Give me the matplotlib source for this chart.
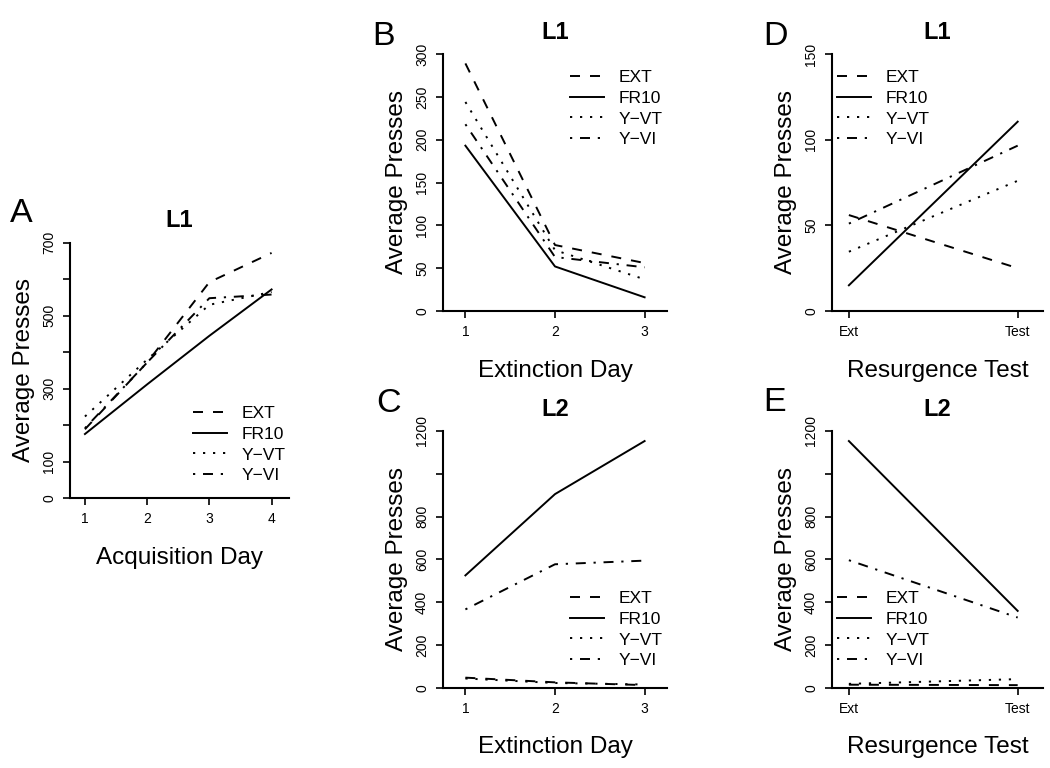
import matplotlib
matplotlib.use('Agg')
import matplotlib.pyplot as plt

plt.rcParams['font.family'] = ['Liberation Sans', 'DejaVu Sans']
plt.rcParams['lines.scale_dashes'] = False

# ---------------- data ----------------
groups = ['EXT', 'FR10', 'Y\u2212VT', 'Y\u2212VI']

acq_days = [1, 2, 3, 4]
acq_ext = [189, 372, 592, 672]
acq_fr10 = [176, 312, 445, 572]
acq_yvt = [224, 380, 530, 565]
acq_yvi = [192, 372, 548, 558]

ext_days = [1, 2, 3]
ext_l1_ext = [289, 77, 56]
ext_l1_fr10 = [193, 52, 16]
ext_l1_yvt = [244, 71, 37]
ext_l1_yvi = [218, 63, 51]

ext_l2_ext = [47, 25, 12]
ext_l2_fr10 = [525, 905, 1153]
ext_l2_yvt = [43, 22, 15]
ext_l2_yvi = [366, 577, 594]

res_labels = ['Ext', 'Test']
res_l1_ext = [56, 25]
res_l1_fr10 = [15, 110.5]
res_l1_yvt = [34.6, 76]
res_l1_yvi = [51, 96.5]

res_l2_ext = [14, 12]
res_l2_fr10 = [1153, 359]
res_l2_yvt = [18, 40]
res_l2_yvi = [596, 328]

acq_yticks = [0, 100, 200, 300, 400, 500, 600, 700]
acq_ylabels = ['0', '100', '', '300', '', '500', '', '700']
l1_ext_yticks = [0, 50, 100, 150, 200, 250, 300]
l2_yticks = [0, 200, 400, 600, 800, 1000, 1200]
l2_ylabels = ['0', '200', '400', '600', '800', '', '1200']
res_l1_yticks = [0, 50, 100, 150]

# ---------------- style ----------------
W, H = 1050, 768
fig = plt.figure(figsize=(W / 100, H / 100), dpi=100)

LW = 1.4
styles = [
    dict(linestyle=(0, (7.2, 7.2))),
    dict(linestyle='-'),
    dict(linestyle=(0, (1.6, 5.6))),
    dict(linestyle=(0, (1.6, 5.6, 7.2, 5.6))),
]


def px_rect(x0, x1, ytop, ybot):
    return [x0 / W, 1 - ybot / H, (x1 - x0) / W, (ybot - ytop) / H]


def make_panel(rect, x, series, xlim, ylim, yticks, ylabels, xticklabels,
               xlabel, title, leg_xy):
    ax = fig.add_axes(rect)
    for s, st in zip(series, styles):
        ax.plot(x, s, color='black', lw=LW, **st)
    ax.set_xlim(*xlim)
    ax.set_ylim(*ylim)
    ax.spines['top'].set_visible(False)
    ax.spines['right'].set_visible(False)
    for sp in ['left', 'bottom']:
        ax.spines[sp].set_linewidth(1.5)
    ax.set_xticks(x)
    ax.set_xticklabels(xticklabels)
    ax.set_yticks(yticks)
    ax.set_yticklabels(ylabels)
    ax.tick_params(axis='both', direction='out', length=5, width=1.2,
                   labelsize=10, pad=5)
    ax.tick_params(axis='y', labelrotation=90)
    for t in ax.get_yticklabels():
        t.set_va('center')
    ax.set_xlabel(xlabel, fontsize=17.5, labelpad=15)
    ax.set_ylabel('Average Presses', fontsize=17.5, labelpad=5)
    ax.set_title(title, fontsize=17, fontweight='bold', pad=11)
    ax.legend(groups, loc='upper left',
              bbox_to_anchor=(leg_xy[0] / W, 1 - leg_xy[1] / H),
              bbox_transform=fig.transFigure, frameon=False,
              fontsize=12.5, handlelength=1.95, handletextpad=0.85,
              labelspacing=0.32, borderpad=0, borderaxespad=0)
    return ax


# A
make_panel(px_rect(70, 289, 242.7, 498.3), acq_days,
           [acq_ext, acq_fr10, acq_yvt, acq_yvi],
           (0.76, 4.28), (0, 700), acq_yticks, acq_ylabels,
           [str(d) for d in acq_days], 'Acquisition Day', 'L1', (193, 406))
# B
make_panel(px_rect(443, 667, 54, 311), ext_days,
           [ext_l1_ext, ext_l1_fr10, ext_l1_yvt, ext_l1_yvi],
           (0.75, 3.25), (0, 300), l1_ext_yticks,
           [str(v) for v in l1_ext_yticks],
           [str(d) for d in ext_days], 'Extinction Day', 'L1', (570, 70))
# C
make_panel(px_rect(443, 667, 431, 687.7), ext_days,
           [ext_l2_ext, ext_l2_fr10, ext_l2_yvt, ext_l2_yvi],
           (0.75, 3.25), (0, 1200), l2_yticks, l2_ylabels,
           [str(d) for d in ext_days], 'Extinction Day', 'L2', (570, 591))
# D
make_panel(px_rect(832, 1043, 54, 311), [1, 2],
           [res_l1_ext, res_l1_fr10, res_l1_yvt, res_l1_yvi],
           (0.9, 2.15), (0, 150), res_l1_yticks,
           [str(v) for v in res_l1_yticks],
           res_labels, 'Resurgence Test', 'L1', (837, 70))
# E
make_panel(px_rect(832, 1043, 431, 687.7), [1, 2],
           [res_l2_ext, res_l2_fr10, res_l2_yvt, res_l2_yvi],
           (0.9, 2.15), (0, 1200), l2_yticks, l2_ylabels,
           res_labels, 'Resurgence Test', 'L2', (837, 591))

# panel letters
for letter, (lx, ly) in zip(['A', 'B', 'C', 'D', 'E'],
                            [(10, 222), (372, 45), (376, 412), (763, 45), (763, 411)]):
    fig.text(lx / W, 1 - ly / H, letter, fontsize=24.5, ha='left', va='baseline')

fig.savefig('out.png', dpi=100)
